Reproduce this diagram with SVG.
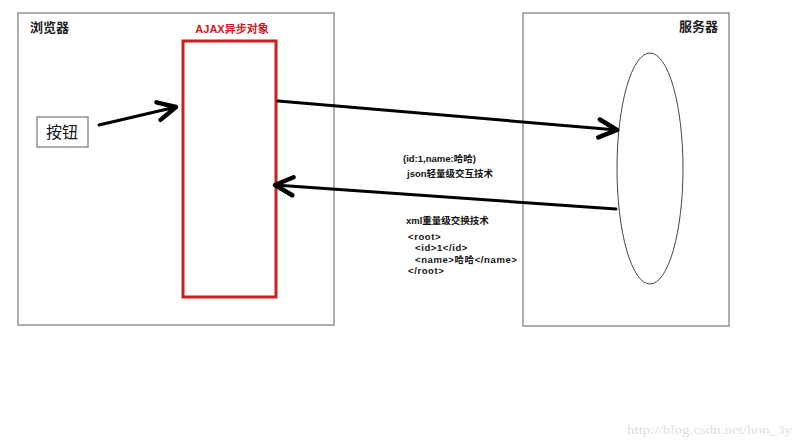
<svg xmlns="http://www.w3.org/2000/svg" width="800" height="442" viewBox="0 0 800 442">
<style>
.box{fill:#fff;stroke:#8a8a8a;stroke-width:1.4}
.lbl{font-family:"Liberation Sans","Noto Sans CJK SC",sans-serif;font-weight:bold;fill:#222}
.small{font-family:"Liberation Sans","Noto Sans CJK SC",sans-serif;font-weight:bold;font-size:9.5px;fill:#111}
.code{letter-spacing:0.6px}
.conn{stroke:#000;stroke-width:3;fill:none;stroke-linecap:round}
</style>
<defs>
<marker id="head" markerUnits="userSpaceOnUse" markerWidth="30" markerHeight="30" refX="0" refY="0" viewBox="-16 -10 20 20" orient="auto">
<path d="M-12,-6 L0,0 L-12,6" fill="none" stroke="#000" stroke-width="3" stroke-linecap="round" stroke-linejoin="round"/>
</marker>
</defs>
<rect width="800" height="442" fill="#fff"/>
<g id="browser">
<rect class="box" x="18" y="13" width="316" height="312"/>
<text class="lbl" x="30" y="32" font-size="13">浏览器</text>
</g>
<g id="button">
<rect class="box" x="37" y="117" width="51" height="30"/>
<text x="62" y="138" font-size="16" text-anchor="middle" font-family="'Noto Sans CJK SC',sans-serif" fill="#111">按钮</text>
</g>
<g id="ajax">
<rect x="183" y="41" width="93" height="256" fill="none" stroke="#c8201e" stroke-width="3"/>
<text x="232" y="33" font-size="11" font-weight="bold" text-anchor="middle" font-family="'Liberation Sans','Noto Sans CJK SC',sans-serif" fill="#c8201e">AJAX异步对象</text>
</g>
<g id="server">
<rect class="box" x="523" y="13" width="206" height="313"/>
<text class="lbl" x="679" y="31" font-size="13">服务器</text>
<ellipse cx="650" cy="168.5" rx="33" ry="115.5" fill="none" stroke="#444" stroke-width="1"/>
</g>
<g id="connectors">
<line class="conn" x1="99" y1="125" x2="176" y2="107" marker-end="url(#head)"/>
<line class="conn" x1="278" y1="101" x2="617" y2="130" marker-end="url(#head)"/>
<line class="conn" x1="616" y1="209" x2="275" y2="185" marker-end="url(#head)"/>
</g>
<g id="labels">
<text class="small" x="403" y="162">(id:1,name:哈哈)</text>
<text class="small" x="407" y="177">json轻量级交互技术</text>
<text class="small" x="406" y="224">xml重量级交换技术</text>
<text class="small code" x="408" y="240">&lt;root&gt;</text>
<text class="small code" x="415" y="251">&lt;id&gt;1&lt;/id&gt;</text>
<text class="small code" x="415" y="263">&lt;name&gt;哈哈&lt;/name&gt;</text>
<text class="small code" x="408" y="274">&lt;/root&gt;</text>
</g>
<text x="627" y="434" font-size="13" font-family="'Liberation Serif',serif" fill="#e0e0e0" textLength="165" lengthAdjust="spacingAndGlyphs">http://blog.csdn.net/hon_3y</text>
</svg>
